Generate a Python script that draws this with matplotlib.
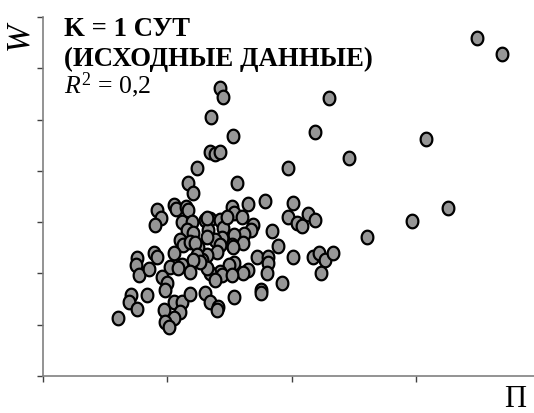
import numpy as np
import matplotlib
matplotlib.use("Agg")
import matplotlib.pyplot as plt
from matplotlib.path import Path
from matplotlib.markers import MarkerStyle

# --- data (arbitrary units: x ticks 0..3, y ticks 0..7) ---
x_vals = [3.49, 3.69, 2.30, 2.19, 3.08, 2.46, 1.97, 1.42, 1.45, 1.35, 1.53, 1.34, 1.38, 1.42,
          1.24, 1.17, 1.21, 1.56, 3.26, 2.97, 2.61, 1.79, 2.01, 1.65, 1.97, 2.04, 2.08, 2.13,
          2.19, 1.84, 1.89, 2.01, 2.17, 2.22, 2.27, 2.33, 2.24, 1.92, 1.72, 1.81, 1.81, 1.75,
          1.75, 1.80, 1.65, 1.61, 1.52, 1.54, 1.60, 1.69, 1.67, 1.62, 1.34, 1.30, 1.33, 1.42,
          1.45, 1.48, 1.54, 1.44, 1.38, 1.52, 1.61, 1.32, 1.42, 1.40, 1.53, 1.32, 1.28, 1.54,
          1.50, 1.42, 1.44, 1.52, 1.34, 1.32, 1.30, 1.34, 1.41, 1.40, 1.54, 1.05, 1.07, 1.15,
          1.17, 0.92, 0.95, 0.90, 1.12, 1.20, 1.32, 1.16, 1.21, 1.10, 1.13, 1.18, 1.25, 1.22,
          1.24, 1.26, 1.21, 1.05, 0.89, 0.92, 0.76, 0.75, 0.77, 0.85, 1.02, 1.12, 1.09, 1.18,
          0.96, 1.00, 0.98, 0.71, 0.69, 0.76, 0.84, 0.60, 1.05, 1.12, 0.97, 1.10, 1.05, 0.98,
          1.01, 1.18, 1.38]
y_vals = [6.59, 6.28, 5.42, 4.76, 4.62, 4.25, 4.05, 5.61, 5.44, 5.05, 4.68, 4.37, 4.33, 4.37,
          4.05, 3.76, 3.57, 3.76, 3.27, 3.02, 2.71, 3.41, 3.37, 3.35, 3.10, 2.98, 2.92, 3.16,
          3.04, 2.83, 2.53, 2.32, 2.32, 2.40, 2.26, 2.40, 2.01, 1.81, 2.32, 2.32, 2.20, 1.68,
          1.62, 2.01, 2.07, 2.01, 3.29, 3.18, 3.10, 2.94, 2.85, 2.77, 3.06, 3.04, 2.85, 3.04,
          2.88, 3.10, 2.75, 2.69, 2.65, 2.55, 2.59, 2.71, 2.55, 2.42, 2.51, 2.36, 2.26, 2.20,
          2.16, 2.03, 1.97, 1.97, 2.01, 2.11, 1.62, 1.44, 1.35, 1.29, 1.54, 3.33, 3.26, 3.29,
          3.24, 3.24, 3.08, 2.94, 3.00, 3.00, 3.08, 2.85, 2.79, 2.65, 2.55, 2.61, 2.51, 2.59,
          2.36, 2.22, 2.26, 2.40, 2.40, 2.32, 2.30, 2.16, 1.97, 2.09, 2.12, 2.16, 2.11, 2.03,
          1.93, 1.81, 1.68, 1.58, 1.44, 1.31, 1.58, 1.13, 1.44, 1.44, 1.29, 1.25, 1.13, 1.05,
          0.96, 1.60, 1.87]
x_ticks = [0, 1, 2, 3]
y_ticks = [0, 1, 2, 3, 4, 5, 6, 7]
title_lines = ["K = 1 СУТ", "(ИСХОДНЫЕ ДАННЫЕ)"]
r2_text = r"$\mathit{R}^2$ = 0,2"

plt.rcParams["mathtext.fontset"] = "custom"
plt.rcParams["mathtext.it"] = "Liberation Serif:italic"
plt.rcParams["mathtext.rm"] = "Liberation Serif"

W, H = 534, 413
fig = plt.figure(figsize=(W / 100, H / 100), dpi=100)
ax = fig.add_axes([43 / W, (H - 376) / H, (W - 43) / W, (376 - 17) / H])

# elliptical marker (slightly taller than wide)
t = np.linspace(0, 2 * np.pi, 60)
verts = np.column_stack([0.43 * np.cos(t), 0.5 * np.sin(t)])
ell = Path(verts, closed=True)

ax.scatter(x_vals, y_vals, s=9.8 ** 2, marker=MarkerStyle(ell), facecolor="#969696",
           edgecolor="black", linewidths=1.6, zorder=3, clip_on=False)

ax.set_xlim(0, (W - 43) / 124.3)
ax.set_ylim(0, 7)
ax.set_xticks(x_ticks)
ax.set_yticks(y_ticks)
ax.set_xticklabels([])
ax.set_yticklabels([])
for s in ["top", "right"]:
    ax.spines[s].set_visible(False)
for s in ["left", "bottom"]:
    ax.spines[s].set_color("#808080")
    ax.spines[s].set_linewidth(1.2)
ax.tick_params(direction="out", length=4, width=1, color="#404040")

serif = ["Liberation Serif", "DejaVu Serif"]
fig.text(64 / W, 1 - 36 / H, title_lines[0], fontsize=19.3, fontweight="bold", family=serif,
         ha="left", va="baseline")
fig.text(64 / W, 1 - 66 / H, title_lines[1], fontsize=19.3, fontweight="bold", family=serif,
         ha="left", va="baseline")
fig.text(64 / W, 1 - 93 / H, r2_text, fontsize=18.5, family=serif, ha="left", va="baseline")

fig.text(34 / W, 1 - 36 / H, "W", fontsize=24, style="italic", family=serif, rotation=90,
         ha="right", va="center")
fig.text(515 / W, 1 - 407 / H, "П", fontsize=22, family=serif, ha="center", va="baseline")

fig.savefig("out.png", dpi=100)
